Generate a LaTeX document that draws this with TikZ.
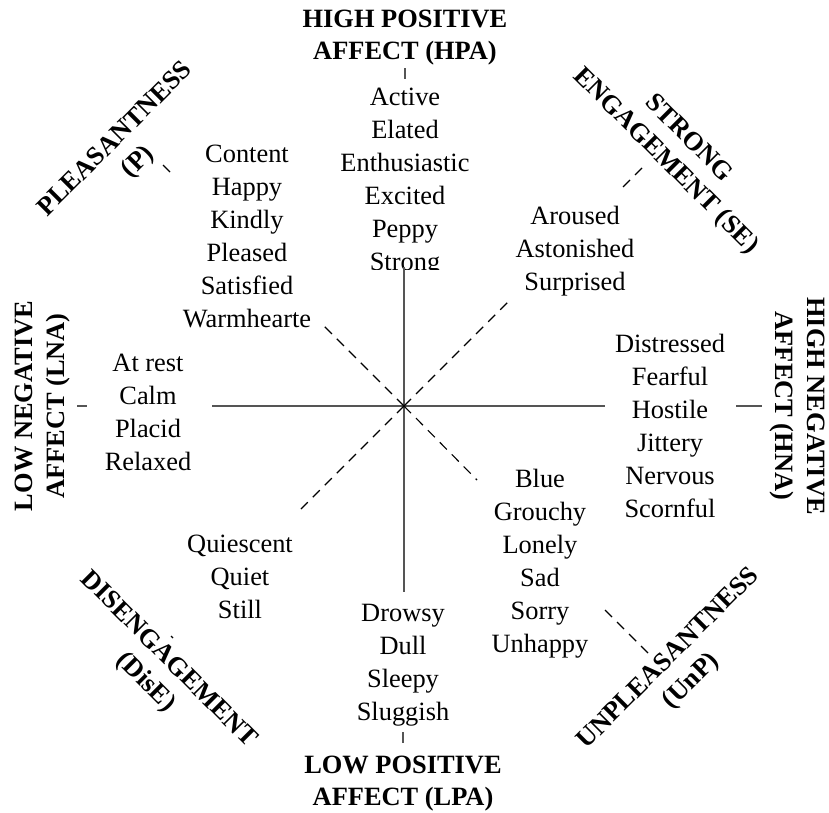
\documentclass[tikz,border=0pt]{standalone}
\usepackage{fontspec}
\setmainfont{Liberation Serif}
\begin{document}
\begin{tikzpicture}[x=1pt,y=-1pt,
  words/.style={align=center,inner sep=0pt,font=\fontsize{26.4}{33}\selectfont},
  title/.style={align=center,inner sep=0pt,font=\fontsize{26.4}{32}\selectfont\bfseries},
  axis/.style={draw={rgb,255:red,85;green,85;blue,85},line width=1.8pt},
  diag/.style={draw=black,line width=1.1pt,dash pattern=on 10pt off 7pt},
  axtick/.style={draw={rgb,255:red,85;green,85;blue,85},line width=1.8pt}]
\useasboundingbox (0,0) rectangle (829,812);

% centre and axis end points
\coordinate (c) at (404,406);
\coordinate (vtop) at (404,267);
\coordinate (vbot) at (404,592);
\coordinate (hl) at (212,406);
\coordinate (hr) at (605,406);
\coordinate (nw) at (320,322);
\coordinate (ne) at (511,299);
\coordinate (se) at (477,480);
\coordinate (sw) at (301,509);

% tick coordinates
\coordinate (hpaA) at (405,68);  \coordinate (hpaB) at (405,79);
\coordinate (lpaA) at (403,732); \coordinate (lpaB) at (403,743);
\coordinate (lnaA) at (77,406);  \coordinate (lnaB) at (87,406);
\coordinate (hnaA) at (736,406); \coordinate (hnaB) at (762,406);
\coordinate (pA) at (163,165);   \coordinate (pB) at (170,172);
\coordinate (seA) at (623,187);  \coordinate (seB) at (642,168);
\coordinate (unA) at (605,610);  \coordinate (unB) at (648,653);
\coordinate (diA) at (171,636);  \coordinate (diB) at (173,638);

% titles
\node[title] (hpaT) at (405,37) {\strut HIGH POSITIVE\\AFFECT (HPA)\strut};
\node[title] (lpaT) at (403,783) {\strut LOW POSITIVE\\AFFECT (LPA)\strut};
\node[title,rotate=90] (lnaT) at (42,406) {\strut LOW NEGATIVE\\AFFECT (LNA)\strut};
\node[title,rotate=-90] (hnaT) at (798,406) {\strut HIGH NEGATIVE\\AFFECT (HNA)\strut};
\node[title,rotate=45] (pT) at (127,151) {\strut PLEASANTNESS\\(P)\strut};
\node[title,rotate=-45] (seT) at (677,150) {\strut STRONG\\ENGAGEMENT (SE)\strut};
\node[title,rotate=-45] (diT) at (157,671) {\strut DISENGAGEMENT\\(DisE)\strut};
\node[title,rotate=45] (unT) at (680,670) {\strut UNPLEASANTNESS\\(UnP)\strut};

% word groups
\begin{scope}
\clip (300,60) rectangle (510,269);
\node[words] (hpaW) at (405,181.5) {\strut Active\\Elated\\Enthusiastic\\Excited\\Peppy\\Strong\strut};
\end{scope}
\node[words] (pW) at (247,238) {\strut Content\\Happy\\Kindly\\Pleased\\Satisfied\\Warmhearte\strut};
\node[words] (seW) at (575,251) {\strut Aroused\\Astonished\\Surprised\strut};
\node[words] (lnaW) at (148,414.5) {\strut At rest\\Calm\\Placid\\Relaxed\strut};
\node[words] (hnaW) at (670,428.5) {\strut Distressed\\Fearful\\Hostile\\Jittery\\Nervous\\Scornful\strut};
\node[words] (diW) at (240,578.5) {\strut Quiescent\\Quiet\\Still\strut};
\node[words] (lpaW) at (403,664) {\strut Drowsy\\Dull\\Sleepy\\Sluggish\strut};
\node[words] (unW) at (540,563) {\strut Blue\\Grouchy\\Lonely\\Sad\\Sorry\\Unhappy\strut};

% axes
\draw[axis] (vtop) -- (vbot);
\draw[axis] (hl) -- (hr);
\draw[diag] (c) -- (nw);
\draw[diag] (c) -- (ne);
\draw[diag] (c) -- (se);
\draw[diag] (c) -- (sw);

% ticks
\draw[axtick] (hpaA) -- (hpaB);
\draw[axtick] (lpaA) -- (lpaB);
\draw[axtick] (lnaA) -- (lnaB);
\draw[axtick] (hnaA) -- (hnaB);
\draw[diag] (pA) -- (pB);
\draw[diag] (seA) -- (seB);
\draw[diag] (unA) -- (unB);
\draw[diag] (diA) -- (diB);
\end{tikzpicture}
\end{document}
